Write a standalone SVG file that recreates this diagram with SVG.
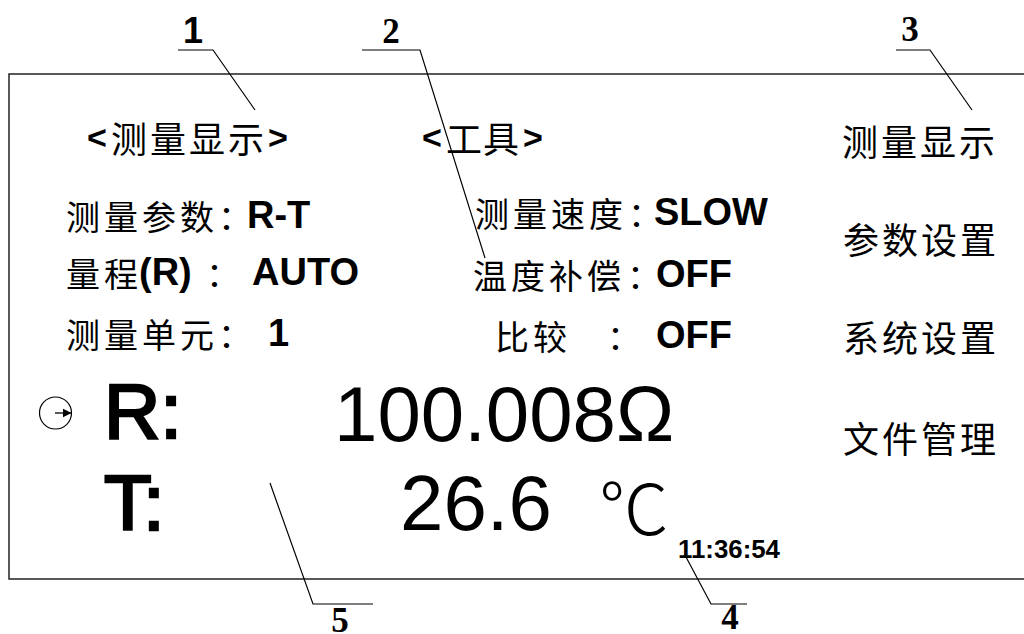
<svg xmlns="http://www.w3.org/2000/svg" width="1024" height="634" viewBox="0 0 1024 634">
<style>
.cjk{font-family:"Noto Sans CJK SC","Liberation Sans",sans-serif;dominant-baseline:central;fill:#000}
.lbl{font-size:34px;letter-spacing:4px}
.col{letter-spacing:-14px}
.hdr{font-size:36px;letter-spacing:3px}
.lt{font-family:"Liberation Sans",Arial,sans-serif;font-weight:bold;font-size:34px;letter-spacing:0}
.menu{font-size:36px;letter-spacing:3px}
.val{font-family:"Liberation Sans",Arial,sans-serif;font-size:38px;font-weight:bold;dominant-baseline:central;fill:#000}
.big{font-family:"Liberation Sans",Arial,sans-serif;font-size:78px;dominant-baseline:central;fill:#000}
.heavy{stroke:#000;stroke-width:2.6}
.num{font-family:"Liberation Serif","Times New Roman",serif;font-size:35px;font-weight:bold;dominant-baseline:central;fill:#000}
.ln{stroke:#000;stroke-width:1.2;fill:none}
</style>
<defs>
<marker id="ah" viewBox="0 0 10 10" refX="10" refY="5" markerWidth="9" markerHeight="10" orient="auto" markerUnits="userSpaceOnUse">
<path d="M0,0 L10,5 L0,10 z" fill="#000"/>
</marker>
</defs>
<rect width="1024" height="634" fill="#fff"/>
<g id="frame">
<path d="M1024,74 H9 V579 H1024" stroke="#222" stroke-width="1.5" fill="none"/>
</g>
<g id="connectors">
<polyline class="ln" points="178,50 213,50 255,110"/>
<polyline class="ln" points="362,50 420,50 485,258"/>
<polyline class="ln" points="896,50 930,50 972,110"/>
<polyline class="ln" points="686,557 711,604 747,604"/>
<polyline class="ln" points="270,483 313,604 373,604"/>
</g>
<g id="callout-1"><text x="193" y="30" text-anchor="middle" style="font-family:'Liberation Sans',sans-serif;font-weight:bold;font-size:36px;dominant-baseline:central">1</text></g>
<g id="callout-2"><text class="num" x="391" y="31" text-anchor="middle">2</text></g>
<g id="callout-3"><text class="num" x="910" y="29" text-anchor="middle">3</text></g>
<g id="callout-4"><text class="num" x="730" y="617" text-anchor="middle">4</text></g>
<g id="callout-5"><text class="num" x="340" y="620" text-anchor="middle">5</text></g>
<g id="tab-measure"><text class="cjk hdr" y="137"><tspan class="lt" x="87">&lt;</tspan><tspan x="111">测量显示</tspan><tspan class="lt" x="268">&gt;</tspan></text></g>
<g id="tab-tools"><text class="cjk hdr" y="137"><tspan class="lt" x="422">&lt;</tspan><tspan x="446" style="letter-spacing:1px">工具</tspan><tspan class="lt" x="523">&gt;</tspan></text></g>
<g id="param-1">
<text class="cjk lbl" x="66" y="215">测量参数<tspan class="col">：</tspan></text>
<text class="val" x="247" y="215">R-T</text>
</g>
<g id="param-2">
<text class="cjk lbl" x="66" y="272">量程</text>
<text class="val" x="139" y="272">(R)</text>
<text class="cjk lbl" x="206" y="272"><tspan class="col">：</tspan></text>
<text class="val" x="252" y="272">AUTO</text>
</g>
<g id="param-3">
<text class="cjk lbl" x="66" y="333">测量单元<tspan class="col">：</tspan></text>
<text class="val" x="268" y="333">1</text>
</g>
<g id="param-4">
<text class="cjk lbl" x="475" y="212">测量速度</text>
<text class="cjk lbl" x="628" y="212"><tspan class="col">：</tspan></text>
<text class="val" x="654" y="212">SLOW</text>
</g>
<g id="param-5">
<text class="cjk lbl" x="473" y="274">温度补偿</text>
<text class="cjk lbl" x="627" y="274"><tspan class="col">：</tspan></text>
<text class="val" x="656" y="274">OFF</text>
</g>
<g id="param-6">
<text class="cjk lbl" x="495" y="335">比较</text>
<text class="cjk lbl" x="607" y="335"><tspan class="col">：</tspan></text>
<text class="val" x="656" y="335">OFF</text>
</g>
<g id="cursor">
<circle cx="55.5" cy="413" r="16" fill="none" stroke="#000" stroke-width="1.2"/>
<line x1="55" y1="413" x2="71.5" y2="413" stroke="#000" stroke-width="1.3" marker-end="url(#ah)"/>
</g>
<g id="reading-r">
<text class="big heavy" x="104" y="411">R:</text>
<text class="big" x="334" y="414">100.008Ω</text>
</g>
<g id="reading-t">
<text class="big heavy" x="104" y="503">T:</text>
<text class="big" x="400" y="503">26.6</text>
<text x="599" y="504" style="font-family:'Noto Sans CJK SC','DejaVu Sans',sans-serif;font-size:70px;font-weight:300;dominant-baseline:central">℃</text>
</g>
<g id="clock"><text x="678" y="549" textLength="102" lengthAdjust="spacingAndGlyphs" style="font-family:'Liberation Sans',sans-serif;font-weight:bold;font-size:26px;dominant-baseline:central">11:36:54</text></g>
<g id="menu-1"><text class="cjk menu" x="842" y="140">测量显示</text></g>
<g id="menu-2"><text class="cjk menu" x="843" y="238">参数设置</text></g>
<g id="menu-3"><text class="cjk menu" x="843" y="336">系统设置</text></g>
<g id="menu-4"><text class="cjk menu" x="843" y="437">文件管理</text></g>
</svg>
